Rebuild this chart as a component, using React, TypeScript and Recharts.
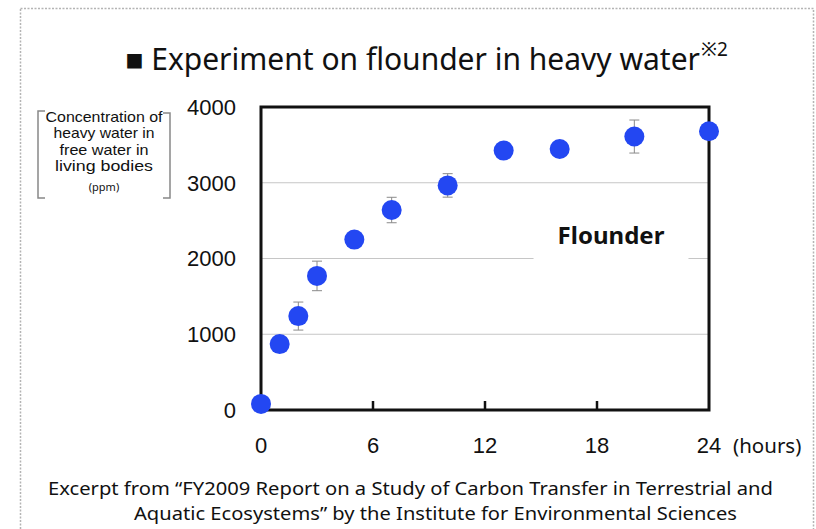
import React from 'react';
import {
  ScatterChart, Scatter, XAxis, YAxis, CartesianGrid, ErrorBar, ReferenceArea
} from 'recharts';

// hours after transfer to heavy water
const hours = [0, 1, 2, 3, 5, 7, 10, 13, 16, 20, 24];
// heavy water concentration in free body water (ppm)
const concentration = [80, 870, 1240, 1770, 2250, 2640, 2965, 3425, 3445, 3610, 3680];
const errors = [0, 60, 185, 195, 100, 168, 155, 80, 80, 218, 80];

const xTicks = [0, 6, 12, 18, 24];
const yTicks = [0, 1000, 2000, 3000, 4000];

const yLabelLines = ['Concentration of', 'heavy water in', 'free water in', 'living bodies'];
const yLabelWidths = [117, 101, 89, 98];
const footerLines = [
  'Excerpt from \u201cFY2009 Report on a Study of Carbon Transfer in Terrestrial and',
  'Aquatic Ecosystems\u201d by the Institute for Environmental Sciences',
];

const data = hours.map((h, i) => ({ h, v: concentration[i], err: errors[i] }));

const W = 816;
const H = 529;
const TEXT_FONT = "'Noto Sans', 'Open Sans', sans-serif";
const NUM_FONT = "'Liberation Sans', Arial, sans-serif";
const DOT = '#2347f2';

function HourTick(props: any) {
  const { x, y, payload } = props;
  const v = payload.value;
  const inner = v > 0 && v < 24;
  return (
    <g>
      {inner && <line x1={x} x2={x} y1={y} y2={y - 9} stroke="#111" strokeWidth={2.5} />}
      <text x={x} y={y + 35} textAnchor="middle" dominantBaseline="central"
        fontFamily={NUM_FONT} fontSize={22} fill="#111">{v}</text>
    </g>
  );
}

export default function App() {
  return (
    <div style={{ position: 'absolute', left: 0, top: 0, width: W, height: H, background: '#fff' }}>
      <ScatterChart width={W} height={H} margin={{ top: 107, right: 107, bottom: 69, left: 201 }}>
        <CartesianGrid horizontal vertical={false} stroke="#c6c6c6" strokeWidth={1} />
        <XAxis type="number" dataKey="h" domain={[0, 24]} ticks={xTicks} height={50}
          axisLine={false} tickLine={false} tickSize={0} tickMargin={0} tick={<HourTick />} />
        <YAxis type="number" dataKey="v" domain={[0, 4000]} ticks={yTicks} width={60}
          axisLine={false} tickLine={false} tickSize={0} tickMargin={25}
          tick={{ fontFamily: NUM_FONT, fontSize: 22, fill: '#111' }} />
        <ReferenceArea x1={14.6} x2={22.9} y1={1900} y2={2720} fill="#fff" fillOpacity={1} stroke="none"
          label={{ value: 'Flounder', position: 'center', fontFamily: TEXT_FONT, fontSize: 24, fontWeight: 700, fill: '#111' }} />
        <ReferenceArea x1={0} x2={24} y1={0} y2={4000} fill="none" stroke="#111" strokeWidth={3} />
        <Scatter data={data} isAnimationActive={false}
          shape={(p: any) => <circle cx={p.cx} cy={p.cy} r={10} fill={DOT} />}>
          <ErrorBar dataKey="err" direction="y" width={5} stroke="#8a8a8a" strokeWidth={1} />
        </Scatter>
      </ScatterChart>

      <svg width={W} height={H} style={{ position: 'absolute', left: 0, top: 0, pointerEvents: 'none' }}>
        <rect x={20.5} y={8.5} width={793} height={540} fill="none" stroke="#b4b4b4" strokeWidth={1.5} strokeDasharray="2 1.5" />

        <text x={700} y={70} textAnchor="end" fontFamily={TEXT_FONT} fontSize={30} fill="#111">
          {'\u25a0 Experiment on flounder in heavy water'}
        </text>
        <text x={701} y={56} fontFamily={TEXT_FONT} fontSize={19} fill="#111">{'\u203b2'}</text>

        <path d="M45 111 H38 V198 H45" fill="none" stroke="#888" strokeWidth={1.5} />
        <path d="M163 113 H170 V198 H163" fill="none" stroke="#888" strokeWidth={1.5} />
        {yLabelLines.map((t, i) => (
          <text key={t} x={104} y={121.5 + i * 16.5} textAnchor="middle" fontFamily={NUM_FONT} fontSize={14.5}
            fill="#111" textLength={yLabelWidths[i]} lengthAdjust="spacingAndGlyphs">{t}</text>
        ))}
        <text x={104} y={191} textAnchor="middle" fontFamily={TEXT_FONT} fontSize={11} fill="#111">(ppm)</text>

        <text x={733} y={445} dominantBaseline="central" fontFamily={TEXT_FONT} fontSize={20.5} fill="#111">(hours)</text>

        <text x={48} y={495} fontFamily={TEXT_FONT} fontSize={18} fill="#111" textLength={725} lengthAdjust="spacingAndGlyphs">{footerLines[0]}</text>
        <text x={134} y={520} fontFamily={TEXT_FONT} fontSize={18} fill="#111" textLength={603} lengthAdjust="spacingAndGlyphs">{footerLines[1]}</text>
      </svg>
    </div>
  );
}
